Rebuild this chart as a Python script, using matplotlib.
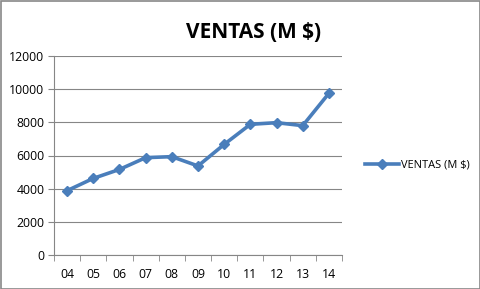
import numpy as np
import matplotlib
matplotlib.use('Agg')
import matplotlib.pyplot as plt
from matplotlib.patches import Rectangle

years = ['04', '05', '06', '07', '08', '09', '10', '11', '12', '13', '14']
ventas = [3880, 4620, 5160, 5870, 5930, 5370, 6670, 7880, 7980, 7800, 9750]
y_ticks = [0, 2000, 4000, 6000, 8000, 10000, 12000]

plt.rcParams['font.family'] = ['Open Sans', 'DejaVu Sans']
W, H = 481, 289
fig = plt.figure(figsize=(W / 100, H / 100), dpi=100)
ax = fig.add_axes([54 / W, 1 - 255 / H, 288 / W, 199 / H])

blue = '#4a7ebb'
grid_c = '#868686'
x = np.arange(len(years))
ax.plot(x, ventas, color=blue, lw=2.6, marker='D', ms=5.5,
        markeredgecolor=blue, label='VENTAS (M $)', zorder=3)

ax.set_xlim(-0.5, len(years) - 0.5)
ax.set_ylim(0, 12000)
ax.set_yticks(y_ticks)
ax.set_yticklabels([str(v) for v in y_ticks], fontsize=8.8)
ax.set_xticks(x)
ax.set_xticklabels(years, fontsize=8.8)
ax.tick_params(axis='x', length=0, pad=9)
ax.set_xticks(np.arange(len(years) + 1) - 0.5, minor=True)
ax.tick_params(axis='x', which='minor', length=4, color=grid_c, direction='out')
ax.tick_params(axis='y', length=4, color=grid_c, pad=3)
ax.yaxis.grid(True, color=grid_c, lw=0.8)
ax.set_axisbelow(True)
for s in ['top', 'right']:
    ax.spines[s].set_visible(False)
ax.spines['left'].set_color(grid_c)
ax.spines['bottom'].set_color(grid_c)

fig.text(254 / W, 1 - 32 / H, 'VENTAS (M $)', ha='center', va='center',
         fontsize=15, fontweight='bold')

fig.legend(loc='center left', bbox_to_anchor=(355 / W, 1 - 165 / H),
           frameon=False, fontsize=7.9, handlelength=3.1, handletextpad=0.15)

fig.patches.append(Rectangle((0.5 / W, 0.5 / H), 1 - 1.5 / W, 1 - 1.5 / H,
                             transform=fig.transFigure, fill=False,
                             edgecolor='#888888', lw=1.2))

fig.savefig('out.png', dpi=100)
